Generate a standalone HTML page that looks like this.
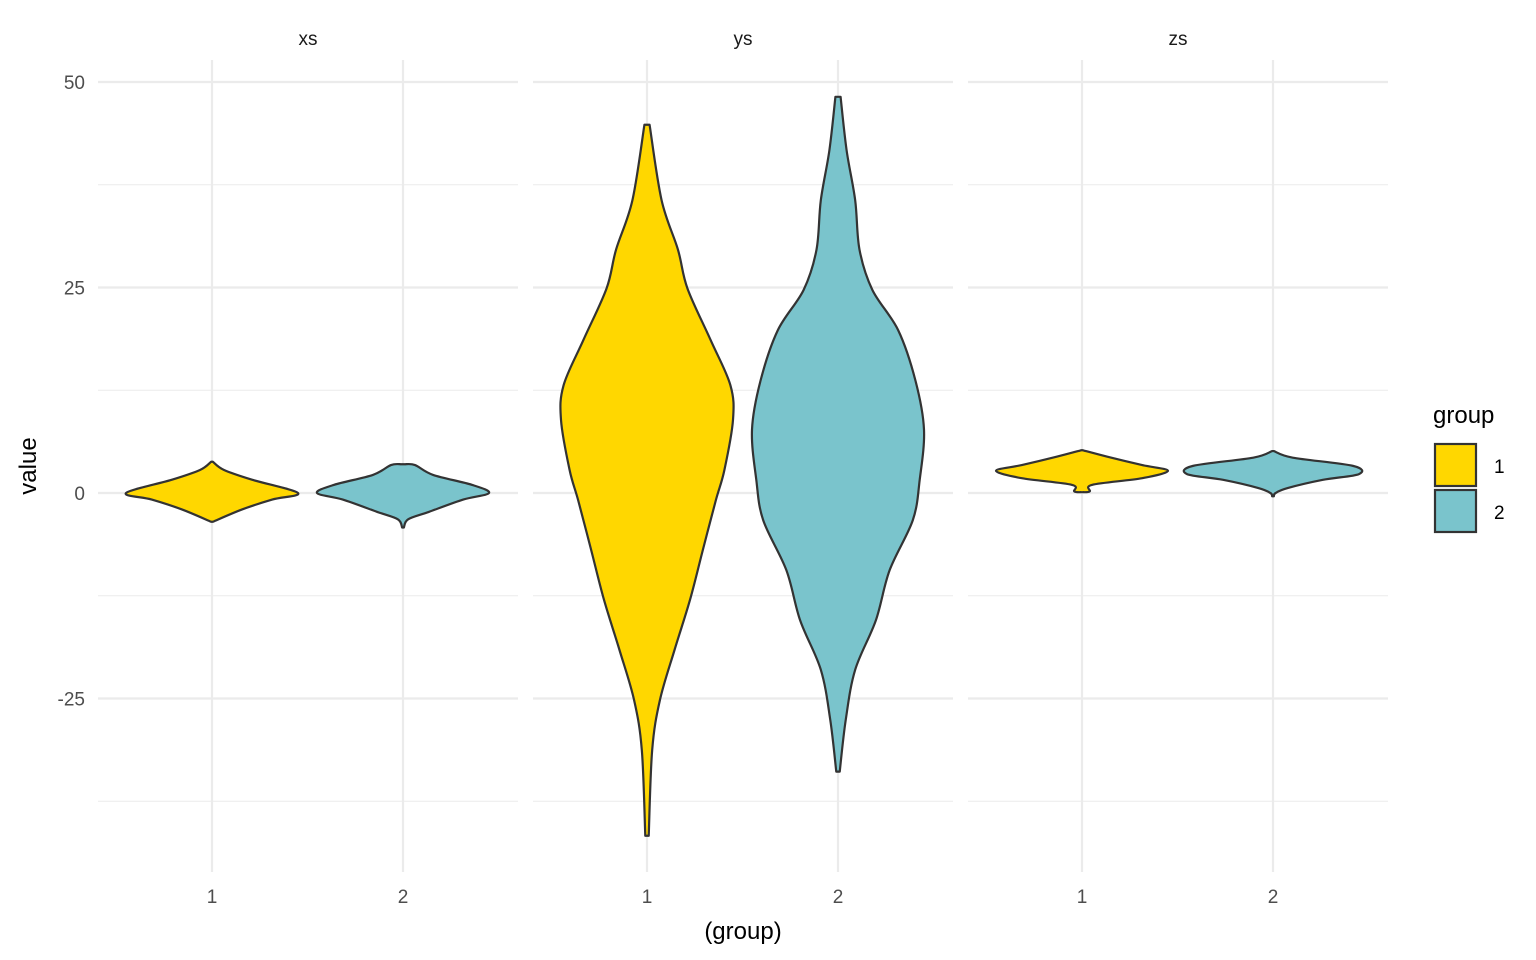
<!DOCTYPE html>
<html><head><meta charset="utf-8"><style>
html,body{margin:0;padding:0;background:#fff;}
svg{display:block;font-family:"Liberation Sans",sans-serif;}
</style></head><body>
<svg id="chart" width="1536" height="960"></svg>
<script>
const facets = ["xs","ys","zs"];
const groups = ["1","2"];
const yTicks = [50,25,0,-25];
const yMinor = [37.5,12.5,-12.5,-37.5];
const fills = ["#FFD700","#7AC4CC"];
// violin profiles: values and relative densities (per facet, per group)
const xs1Vals = [3.8,2.8,1.6,0,-0.8,-2.0,-3.5];
const xs1Dens = [0.01,0.14,0.47,1,0.7,0.35,0.01];
const xs2Vals = [3.5,3.4,2.2,1.0,0,-0.8,-2.3,-3.2,-4.2];
const xs2Dens = [0.02,0.14,0.35,0.8,1,0.7,0.3,0.06,0.01];
const ys1Vals = [44.8,35.6,29.6,24.9,18.6,13.1,8.9,2.8,-0.9,-6.9,-13.0,-19.1,-25.2,-31.3,-41.7];
const ys1Dens = [0.03,0.17,0.36,0.47,0.74,0.97,1,0.9,0.8,0.65,0.5,0.32,0.15,0.06,0.02];
const ys2Vals = [48.2,41.7,35.6,29.6,24.7,19.8,13.7,7.7,1.6,-3.3,-9.4,-15.5,-21.5,-27.6,-33.9];
const ys2Dens = [0.03,0.1,0.2,0.25,0.4,0.7,0.9,1,0.95,0.87,0.6,0.44,0.2,0.09,0.02];
const zs1Vals = [5.2,4.4,3.4,2.7,1.8,1.0,0.2,0.1];
const zs1Dens = [0.01,0.3,0.7,1,0.7,0.12,0.09,0.01];
const zs2Vals = [5.1,4.3,3.3,2.3,1.6,0.6,0,-0.4];
const zs2Dens = [0.01,0.23,0.93,1,0.58,0.17,0.03,0.01];
const violins = [[[xs1Vals,xs1Dens],[xs2Vals,xs2Dens]],[[ys1Vals,ys1Dens],[ys2Vals,ys2Dens]],[[zs1Vals,zs1Dens],[zs2Vals,zs2Dens]]];

const NS="http://www.w3.org/2000/svg";
const svg=document.getElementById('chart');
function mk(t,a,p){const e=document.createElementNS(NS,t);for(const k in a)e.setAttribute(k,a[k]);(p||svg).appendChild(e);return e;}
const panelX=[98,533,968], panelW=420, panelTop=60, panelBottom=872;
const yScale=v=>493-v*8.22;
const xCat=(p,i)=>panelX[p]+114+i*191;
const maxHalf=86;
function crPath(pts){let d=`M${pts[0][0]},${pts[0][1]}`;for(let i=0;i<pts.length-1;i++){const p0=pts[i-1]||pts[i],p1=pts[i],p2=pts[i+1],p3=pts[i+2]||p2;d+=` C${p1[0]+(p2[0]-p0[0])/6},${p1[1]+(p2[1]-p0[1])/6} ${p2[0]-(p3[0]-p1[0])/6},${p2[1]-(p3[1]-p1[1])/6} ${p2[0]},${p2[1]}`;}return d;}
facets.forEach((f,p)=>{
  const g=mk('g',{});
  
  
  yMinor.forEach(v=>{const l=mk('line',{x1:panelX[p],x2:panelX[p]+panelW,y1:yScale(v),y2:yScale(v),stroke:'#ebebeb','stroke-width':1},g);
    
    });
  yTicks.forEach(v=>{const l=mk('line',{x1:panelX[p],x2:panelX[p]+panelW,y1:yScale(v),y2:yScale(v),stroke:'#ebebeb','stroke-width':2.2},g);
    
    });
  groups.forEach((gr,i)=>{const l=mk('line',{x1:xCat(p,i),x2:xCat(p,i),y1:panelTop,y2:panelBottom,stroke:'#ebebeb','stroke-width':2.2},g);
    
    
    const t=mk('text',{x:xCat(p,i),y:903,'text-anchor':'middle','font-size':19,fill:'#4d4d4d'},g);t.textContent=gr;
    
    });
  const st=mk('text',{x:panelX[p]+210,y:45,'text-anchor':'middle','font-size':19,fill:'#1a1a1a'},g);st.textContent=f;
  
  
  violins[p].forEach((vd,i)=>{const vals=vd[0],dens=vd[1];const cx=xCat(p,i);
    const right=vals.map((v,k)=>[cx+dens[k]*maxHalf,yScale(v)]);
    const left=vals.map((v,k)=>[cx-dens[k]*maxHalf,yScale(v)]).reverse();
    const d=crPath(right)+' L'+crPath(left).slice(1)+' Z';
    const path=mk('path',{d:d,fill:fills[i],stroke:'#333333','stroke-width':2.2,'stroke-linejoin':'round'},g);
    
    
  });
});
yTicks.forEach(v=>{const t=mk('text',{x:85,y:yScale(v)+7,'text-anchor':'end','font-size':19,fill:'#4d4d4d'});t.textContent=v;
  
  });
const xt=mk('text',{x:743,y:939,'text-anchor':'middle','font-size':24,fill:'#000'});xt.textContent='(group)';


const yt=mk('text',{x:0,y:0,'text-anchor':'middle','font-size':24,fill:'#000',transform:'translate(36,466) rotate(-90)'});yt.textContent='value';


const lg=mk('g',{});


const lt=mk('text',{x:1433,y:423,'font-size':24,fill:'#000'},lg);lt.textContent='group';


groups.forEach((gr,i)=>{const r=mk('rect',{x:1435,y:444+i*46,width:41,height:42,fill:fills[i],stroke:'#333333','stroke-width':2.2},lg);
  
  
  const t=mk('text',{x:1494,y:473+i*46,'font-size':19,fill:'#000'},lg);t.textContent=gr;
  
  });
</script>
</body></html>
